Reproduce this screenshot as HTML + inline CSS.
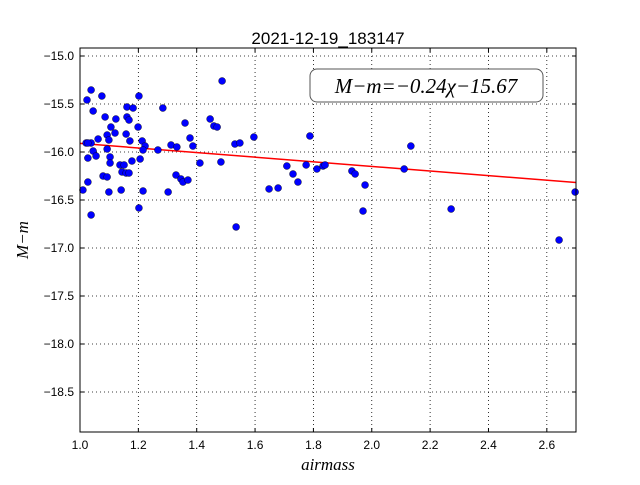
<!DOCTYPE html>
<html><head><meta charset="utf-8"><style>
body{margin:0;background:#fff;}
svg text{font-family:"Liberation Sans",sans-serif;}
svg text.serif{font-family:"Liberation Serif","DejaVu Serif",serif;font-style:italic;}
</style></head><body>
<svg id="chart" width="640" height="480" xmlns="http://www.w3.org/2000/svg">
<rect width="640" height="480" fill="#fff"/>
<text x="328" y="44" font-size="17" text-anchor="middle">2021-12-19_183147</text>
<g id="grid"></g><g id="fit"></g><g id="pts"></g><g id="ticks"></g>
<rect x="80" y="48" width="496" height="384" fill="none" stroke="#000" stroke-width="1"/>
<g>
<rect x="310" y="69" width="233" height="33" rx="7" fill="#fff" stroke="#555" stroke-width="1"/>
<text class="serif" x="426" y="93" font-size="21" text-anchor="middle">M−m=−0.24χ−15.67</text>
</g>
<text class="serif" x="328" y="470" font-size="17" text-anchor="middle">airmass</text>
<text class="serif" transform="translate(28,240) rotate(-90)" font-size="17" text-anchor="middle">M−m</text>
</svg>
<script>
const airmass=[1.038,1.024,1.075,1.202,1.045,1.161,1.182,1.284,1.487,1.086,1.123,1.161,1.168,1.106,1.120,1.158,1.199,1.360,1.446,1.459,1.470,1.093,1.062,1.099,1.171,1.213,1.377,1.021,1.038,1.027,1.312,1.332,1.387,1.223,1.531,1.548,1.093,1.045,1.216,1.267,1.055,1.027,1.103,1.103,1.178,1.206,1.411,1.483,1.137,1.151,1.144,1.158,1.168,1.079,1.093,1.329,1.346,1.353,1.370,1.027,1.010,1.099,1.141,1.216,1.302,1.202,1.038,1.596,1.788,2.134,1.709,1.730,1.747,1.648,1.679,1.775,1.812,1.833,1.840,1.932,1.943,1.977,1.970,2.111,2.272,2.642,2.697,1.535];
const mag=[-15.354,-15.458,-15.417,-15.417,-15.573,-15.531,-15.542,-15.542,-15.260,-15.635,-15.656,-15.635,-15.667,-15.740,-15.802,-15.813,-15.740,-15.698,-15.656,-15.729,-15.740,-15.823,-15.865,-15.875,-15.885,-15.885,-15.854,-15.906,-15.906,-15.906,-15.927,-15.948,-15.938,-15.938,-15.917,-15.906,-15.969,-15.990,-15.979,-15.979,-16.042,-16.063,-16.052,-16.115,-16.094,-16.073,-16.115,-16.104,-16.135,-16.135,-16.208,-16.219,-16.219,-16.250,-16.260,-16.240,-16.281,-16.313,-16.292,-16.313,-16.396,-16.417,-16.396,-16.406,-16.417,-16.583,-16.656,-15.844,-15.833,-15.938,-16.146,-16.229,-16.313,-16.385,-16.375,-16.135,-16.177,-16.146,-16.135,-16.198,-16.229,-16.344,-16.615,-16.177,-16.594,-16.917,-16.417,-16.781];
const xTicks=[1.0,1.2,1.4,1.6,1.8,2.0,2.2,2.4,2.6];
const yTicks=[-15.0,-15.5,-16.0,-16.5,-17.0,-17.5,-18.0,-18.5];
const fitSlope=-0.24, fitIntercept=-15.67;
const X0=80,X1=576,Y0=48,Y1=432,xmin=1.0,xmax=2.7,ymax=-14.9167,ymin=-18.9167;
const sx=v=>X0+(v-xmin)/(xmax-xmin)*(X1-X0);
const sy=v=>Y0+(ymax-v)/(ymax-ymin)*(Y1-Y0);
const NS="http://www.w3.org/2000/svg";
function mk(t,a,p){const e=document.createElementNS(NS,t);for(const k in a)e.setAttribute(k,a[k]);p.appendChild(e);return e;}
const grid=document.getElementById('grid'),ticks=document.getElementById('ticks');
xTicks.forEach(v=>{const x=sx(v);
const g=mk('line',{x1:x,x2:x,y1:Y0,y2:Y1,stroke:'#000','stroke-dasharray':'1,3','stroke-width':0.8},grid);


mk('line',{x1:x,x2:x,y1:Y1,y2:Y1-4,stroke:'#000'},ticks);mk('line',{x1:x,x2:x,y1:Y0,y2:Y0+4,stroke:'#000'},ticks);
const t=mk('text',{x:x,y:Y1+17,'font-size':12,'text-anchor':'middle'},ticks);t.textContent=v.toFixed(1);

});
yTicks.forEach(v=>{const y=sy(v);
const g=mk('line',{x1:X0,x2:X1,y1:y,y2:y,stroke:'#000','stroke-dasharray':'1,3','stroke-width':0.8},grid);


mk('line',{x1:X0,x2:X0+4,y1:y,y2:y,stroke:'#000'},ticks);mk('line',{x1:X1,x2:X1-4,y1:y,y2:y,stroke:'#000'},ticks);
const t=mk('text',{x:X0-6,y:y+4,'font-size':12,'text-anchor':'end'},ticks);t.textContent=v.toFixed(1).replace('-','−');

});
const pts=document.getElementById('pts');
airmass.forEach((a,i)=>{const c=mk('circle',{cx:sx(a),cy:sy(mag[i]),r:3.5,fill:'#0000ff',stroke:'#000','stroke-width':0.4},pts);

});
const fl=mk('line',{x1:sx(xmin),x2:sx(xmax),y1:sy(fitSlope*xmin+fitIntercept),y2:sy(fitSlope*xmax+fitIntercept),stroke:'#ff0000','stroke-width':1.5},document.getElementById('fit'));


</script>
</body></html>
